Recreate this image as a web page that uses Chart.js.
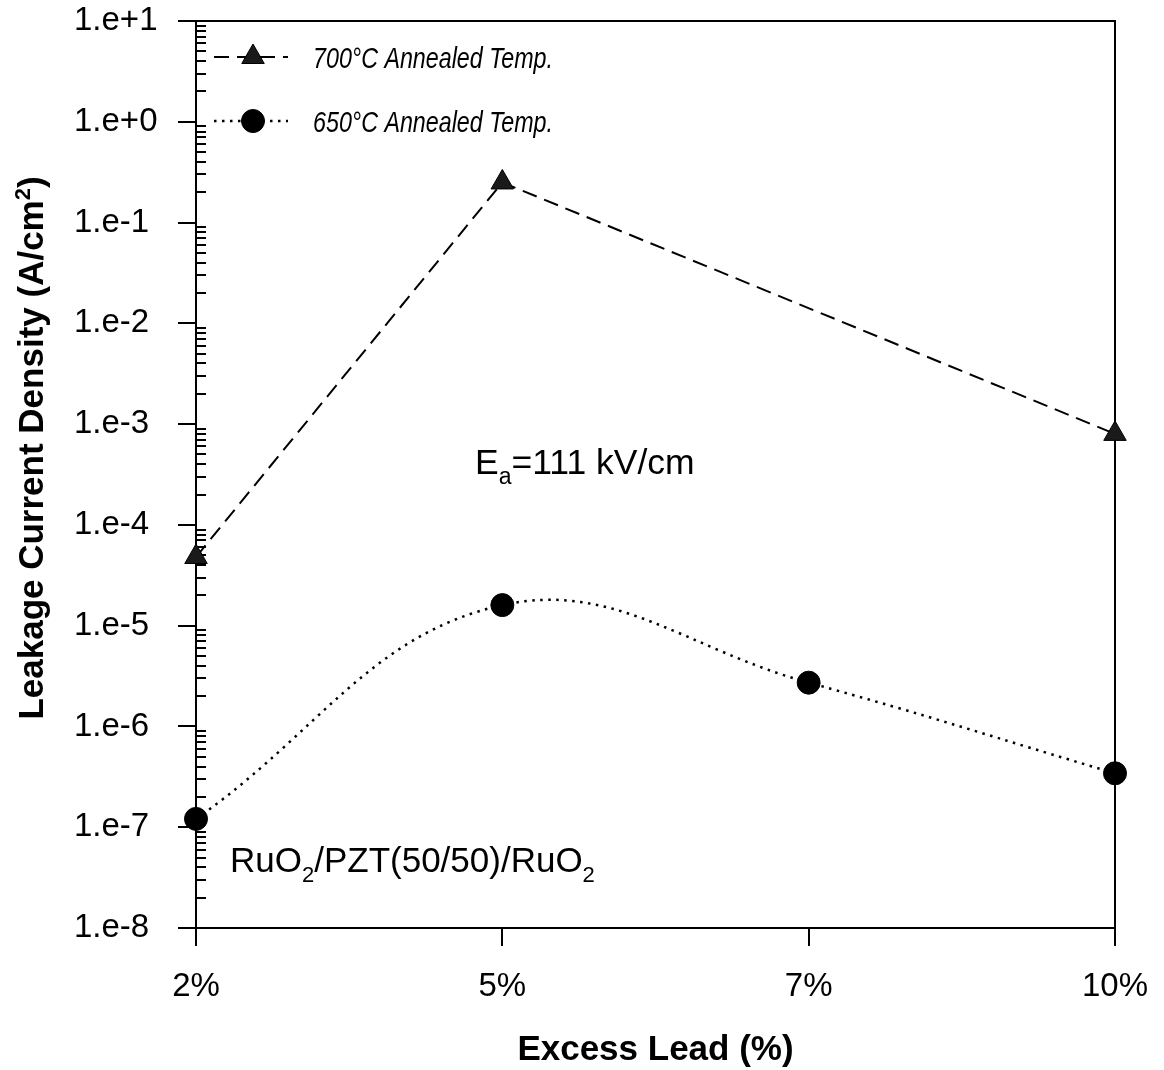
<!DOCTYPE html>
<html><head><meta charset="utf-8">
<script src="https://cdn.jsdelivr.net/npm/chart.js@4/dist/chart.umd.min.js"></script>
<style>html,body{margin:0;padding:0;background:#fff;}#wrap{width:1164px;height:1070px;}</style>
</head><body><div id="wrap"><canvas id="c" width="1164" height="1070"></canvas></div>
<script>
const categories = ['2%', '5%', '7%', '10%'];
const series700 = [4.8e-5, 0.25, null, 8.0e-4];
const series650 = [1.21e-7, 1.6e-5, 2.72e-6, 3.43e-7];
const seriesNames = ['700°C Annealed Temp.', '650°C Annealed Temp.'];
const yTickValues = [1e-8, 1e-7, 1e-6, 1e-5, 1e-4, 1e-3, 1e-2, 1e-1, 1e0, 1e1];
const yTickLabels = ['1.e-8', '1.e-7', '1.e-6', '1.e-5', '1.e-4', '1.e-3', '1.e-2', '1.e-1', '1.e+0', '1.e+1'];
const minorMultipliers = [2, 3, 4, 5, 6, 7, 8, 9];

const FONT = "'Liberation Sans', Arial, Helvetica, sans-serif";

function drawRich(ctx, parts, x, y, size, weight, style) {
  let cx = x;
  for (const p of parts) {
    const small = p.sub || p.sup;
    const s = small ? Math.round(size * 0.64) : size;
    ctx.font = (style || 'normal') + ' ' + (weight || 'normal') + ' ' + s + 'px ' + FONT;
    const dy = p.sub ? size * 0.28 : (p.sup ? -size * 0.36 : 0);
    ctx.fillText(p.t, cx, y + dy);
    cx += ctx.measureText(p.t).width;
  }
  return cx - x;
}
function richWidth(ctx, parts, size, weight, style) {
  let w = 0;
  for (const p of parts) {
    const small = p.sub || p.sup;
    const s = small ? Math.round(size * 0.64) : size;
    ctx.font = (style || 'normal') + ' ' + (weight || 'normal') + ' ' + s + 'px ' + FONT;
    w += ctx.measureText(p.t).width;
  }
  return w;
}

const decorPlugin = {
  id: 'decor',
  beforeDatasetsDraw(chart) {
    const ctx = chart.ctx;
    const a = chart.chartArea;
    const ys = chart.scales.y;
    ctx.save();
    ctx.strokeStyle = '#000';
    ctx.lineWidth = 2;
    ctx.beginPath();
    ctx.moveTo(a.left, a.top); ctx.lineTo(a.right, a.top); ctx.lineTo(a.right, a.bottom);
    ctx.stroke();
    ctx.beginPath();
    for (const v of yTickValues) {
      const py = Math.round(ys.getPixelForValue(v));
      ctx.moveTo(a.left - 18, py); ctx.lineTo(a.left, py);
      if (v < 10) {
        for (const m of minorMultipliers) {
          const pm = Math.round(ys.getPixelForValue(v * m));
          ctx.moveTo(a.left, pm); ctx.lineTo(a.left + 10, pm);
        }
      }
    }
    ctx.stroke();
    ctx.restore();
  },
  afterDraw(chart) {
    const ctx = chart.ctx;
    const a = chart.chartArea;
    ctx.save();
    ctx.fillStyle = '#000';
    ctx.textAlign = 'left';
    ctx.textBaseline = 'alphabetic';

    const rowsY = [57, 121];
    chart.data.datasets.forEach((ds, i) => {
      const y = rowsY[i];
      ctx.save();
      ctx.strokeStyle = ds.borderColor;
      ctx.lineWidth = ds.borderWidth;
      ctx.setLineDash(ds.borderDash || []);
      ctx.beginPath(); ctx.moveTo(214, y); ctx.lineTo(288, y); ctx.stroke();
      ctx.setLineDash([]);
      ctx.fillStyle = ds.pointBackgroundColor;
      ctx.strokeStyle = ds.pointBorderColor;
      ctx.lineWidth = ds.pointBorderWidth;
      Chart.helpers.drawPoint(ctx, {pointStyle: ds.pointStyle, radius: ds.pointRadius, borderWidth: ds.pointBorderWidth, rotation: 0}, 253, y);
      ctx.restore();
      ctx.save();
      ctx.font = 'italic normal 30px ' + FONT;
      const w = ctx.measureText(ds.label).width;
      const sx = 240 / w;
      ctx.translate(313, y + 11);
      ctx.scale(sx, 1);
      ctx.fillText(ds.label, 0, 0);
      ctx.restore();
    });

    drawRich(ctx, [{t: 'E'}, {t: 'a', sub: true}, {t: '=111 kV/cm'}], 475, 474, 35.5);
    drawRich(ctx, [{t: 'RuO'}, {t: '2', sub: true}, {t: '/PZT(50/50)/RuO'}, {t: '2', sub: true}], 230, 872, 35);

    ctx.font = 'bold 35px ' + FONT;
    ctx.textAlign = 'center';
    ctx.fillText('Excess Lead (%)', (a.left + a.right) / 2, 1060);
    ctx.textAlign = 'left';

    const parts = [{t: 'Leakage Current Density (A/cm'}, {t: '2', sup: true}, {t: ')'}];
    const size = 35;
    const tw = richWidth(ctx, parts, size, 'bold');
    ctx.save();
    ctx.translate(30, 448);
    ctx.rotate(-Math.PI / 2);
    drawRich(ctx, parts, -tw / 2, size * 0.36, size, 'bold');
    ctx.restore();

    ctx.restore();
  }
};

const ctx = document.getElementById('c').getContext('2d');
new Chart(ctx, {
  type: 'line',
  data: {
    labels: categories,
    datasets: [
      {
        label: seriesNames[0],
        data: series700,
        borderColor: '#000',
        borderWidth: 2,
        borderDash: [15, 8],
        tension: 0,
        spanGaps: true,
        pointStyle: 'triangle',
        pointRadius: 13,
        pointBackgroundColor: '#1a1a1a',
        pointBorderColor: '#000',
        pointBorderWidth: 1,
        clip: false
      },
      {
        label: seriesNames[1],
        data: series650,
        borderColor: '#000',
        borderWidth: 2.5,
        borderDash: [2.5, 5.5],
        tension: 0.4,
        spanGaps: true,
        pointStyle: 'circle',
        pointRadius: 11.5,
        pointBackgroundColor: '#000',
        pointBorderColor: '#000',
        pointBorderWidth: 1,
        clip: false
      }
    ]
  },
  options: {
    responsive: false,
    animation: false,
    devicePixelRatio: 1,
    layout: {padding: {left: 74, right: 49, top: 21, bottom: 0}},
    plugins: {legend: {display: false}, tooltip: {enabled: false}},
    scales: {
      x: {
        type: 'category',
        offset: false,
        grid: {display: true, drawOnChartArea: false, drawTicks: true, tickLength: 18, color: '#000', lineWidth: 2},
        border: {display: true, color: '#000', width: 2},
        ticks: {color: '#000', font: {family: FONT, size: 33}, padding: 21, maxRotation: 0, autoSkip: false},
        afterFit(scale) { scale.height = 142; scale.paddingLeft = 0; scale.paddingRight = 0; }
      },
      y: {
        type: 'logarithmic',
        min: 1e-8,
        max: 10,
        grid: {display: false},
        border: {display: true, color: '#000', width: 2},
        ticks: {
          color: '#000', font: {family: FONT, size: 33}, crossAlign: 'far', autoSkip: false,
          callback: function (value) {
            const idx = yTickValues.findIndex(v => Math.abs(Math.log10(v) - Math.log10(value)) < 1e-6);
            return idx >= 0 ? yTickLabels[idx] : '';
          }
        },
        afterBuildTicks(scale) { scale.ticks = yTickValues.map(v => ({value: v})); },
        afterFit(scale) { scale.width = 122; scale.paddingTop = 0; scale.paddingBottom = 0; }
      }
    }
  },
  plugins: [decorPlugin]
});
</script>
</body></html>
